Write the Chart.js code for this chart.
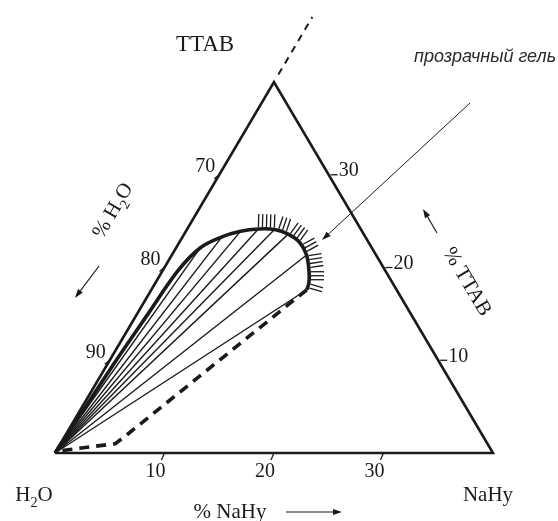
<!DOCTYPE html>
<html>
<head>
<meta charset="utf-8">
<script src="https://cdn.jsdelivr.net/npm/chart.js@4.4.1/dist/chart.umd.min.js"></script>
<style>
  html, body { margin: 0; padding: 0; background: #fff; }
  #wrap { width: 558px; height: 521px; position: relative; }
</style>
</head>
<body>
<div id="wrap"><canvas id="phaseChart"></canvas></div>
<script>
// composition in wt %: b = NaHy, t = TTAB, H2O is the remainder
const sideMax = 40;

// gel region boundary
const gelNaHy = [0, 0.3, 0.6, 1.0, 1.4, 2.2, 3.6, 5.0, 6.5, 8.0, 9.5, 11.0, 12.3, 13.4, 14.0, 14.2];
const gelTTAB = [0, 5, 10, 15, 19.6, 22.1, 23.3, 23.9, 24.15, 24.1, 23.6, 22.7, 21.35, 19.6, 18.4, 17.6];

// tie lines run from the water corner to these boundary points
const tieIdx = [5, 6, 7, 8, 9, 10, 12, 15];

// lower (dashed) boundary
const baseNaHy = [14.2, 5.5, 5.0, 0.4];
const baseTTAB = [17.6, 1.8, 1.0, 0.25];

// hatched part of the boundary (index range)
const hatchFrom = 8;
const hatchTo = 15;

// axis ticks
const naHyTicks = [10, 20, 30];
const waterTicks = [70, 80, 90];
const ttabTicks = [10, 20, 30];

// dashed continuation past the TTAB corner
const apexExtTTAB = [40.8, 47];

const ink = '#1a1a1a';
const serif = "'Liberation Serif', 'Times New Roman', serif";

const toXY = (b, t) => ({ x: b + t / 2, y: t * Math.sqrt(3) / 2 });

function seg(points, extra) {
    return Object.assign({
        data: points,
        showLine: true,
        pointRadius: 0,
        borderColor: ink,
        borderWidth: 1.3,
        fill: false,
        tension: 0,
        borderJoinStyle: 'miter'
    }, extra);
}

const datasets = [
    seg([toXY(0, 0), toXY(sideMax, 0), toXY(0, sideMax), toXY(0, 0)], { borderWidth: 2.6 }),
    seg(apexExtTTAB.map(t => toXY(0, t)), { borderWidth: 2, borderDash: [7, 6] }),
    ...tieIdx.map(i => seg([toXY(0, 0), toXY(gelNaHy[i], gelTTAB[i])], { borderWidth: 1.4 })),
    seg(gelNaHy.map((b, i) => toXY(b, gelTTAB[i])), { borderWidth: 3.6, tension: 0.35, borderJoinStyle: 'round' }),
    seg(baseNaHy.map((b, i) => toXY(b, baseTTAB[i])), { borderWidth: 3.6, borderDash: [10, 7] })
];

function arrow(ctx, x1, y1, x2, y2) {
    const a = Math.atan2(y2 - y1, x2 - x1);
    ctx.beginPath();
    ctx.moveTo(x1, y1);
    ctx.lineTo(x2 - 5 * Math.cos(a), y2 - 5 * Math.sin(a));
    ctx.stroke();
    ctx.beginPath();
    ctx.moveTo(x2, y2);
    ctx.lineTo(x2 - 9 * Math.cos(a) + 3 * Math.sin(a), y2 - 9 * Math.sin(a) - 3 * Math.cos(a));
    ctx.lineTo(x2 - 9 * Math.cos(a) - 3 * Math.sin(a), y2 - 9 * Math.sin(a) + 3 * Math.cos(a));
    ctx.closePath();
    ctx.fill();
}

// centred text with a lowered small digit, parts: [text, isSub]
function chem(ctx, parts, x, y, size) {
    ctx.textAlign = 'left';
    const widths = parts.map(([s, sub]) => {
        ctx.font = (sub ? size * 0.68 : size) + 'px ' + serif;
        return ctx.measureText(s).width;
    });
    let cx = x - widths.reduce((a, w) => a + w, 0) / 2;
    parts.forEach(([s, sub], i) => {
        ctx.font = (sub ? size * 0.68 : size) + 'px ' + serif;
        ctx.fillText(s, cx, y + (sub ? size * 0.28 : 0));
        cx += widths[i];
    });
}

const decor = {
    id: 'ternaryDecor',
    afterDatasetsDraw(chart) {
        const ctx = chart.ctx;
        const xs = chart.scales.x, ys = chart.scales.y;
        const px = (b, t) => { const p = toXY(b, t); return [xs.getPixelForValue(p.x), ys.getPixelForValue(p.y)]; };
        ctx.save();
        ctx.strokeStyle = ink;
        ctx.fillStyle = ink;

        // hatching on the outer side of the gel boundary, evenly spaced along it
        const pts = [];
        for (let i = hatchFrom; i <= hatchTo; i++) pts.push(px(gelNaHy[i], gelTTAB[i]));
        ctx.lineWidth = 1.3;
        const step = 4.0;
        let next = 0, walked = 0;
        for (let i = 0; i < pts.length - 1; i++) {
            const [x1, y1] = pts[i], [x2, y2] = pts[i + 1];
            const len = Math.hypot(x2 - x1, y2 - y1);
            const ux = (x2 - x1) / len, uy = (y2 - y1) / len;
            const nx = uy, ny = -ux;
            while (next <= walked + len) {
                const d = next - walked;
                const bx = x1 + ux * d, by = y1 + uy * d;
                ctx.beginPath();
                ctx.moveTo(bx + nx * 2, by + ny * 2);
                ctx.lineTo(bx + nx * 15, by + ny * 15);
                ctx.stroke();
                next += step;
            }
            walked += len;
        }

        // tick marks
        ctx.lineWidth = 1.3;
        ctx.textBaseline = 'middle';
        ctx.font = '20px ' + serif;
        naHyTicks.forEach(v => {
            const [x, y] = px(v, 0);
            ctx.beginPath(); ctx.moveTo(x, y); ctx.lineTo(x - 3, y + 7); ctx.stroke();
            ctx.textAlign = 'center';
            ctx.fillText(String(v), x - 9, y + 19);
        });
        waterTicks.forEach(v => {
            const [x, y] = px(0, 100 - v);
            ctx.beginPath(); ctx.moveTo(x, y); ctx.lineTo(x - 5, y + 4); ctx.stroke();
            ctx.textAlign = 'right';
            ctx.fillText(String(v), x - 4, y - 8);
        });
        ttabTicks.forEach(v => {
            const [x, y] = px(sideMax - v, v);
            ctx.beginPath(); ctx.moveTo(x + 2, y); ctx.lineTo(x + 9, y); ctx.stroke();
            ctx.textAlign = 'left';
            ctx.fillText(String(v), x + 10, y - 4);
        });

        // corner names
        ctx.textAlign = 'center';
        ctx.textBaseline = 'alphabetic';
        ctx.font = '23px ' + serif;
        ctx.fillText('TTAB', 205, 51);
        chem(ctx, [['H', false], ['2', true], ['O', false]], 34, 501, 21);
        ctx.font = '21px ' + serif;
        ctx.textAlign = 'center';
        ctx.fillText('NaHy', 488, 501);

        // axis titles with direction arrows
        ctx.lineWidth = 1.2;
        ctx.fillText('% NaHy', 230, 518);
        arrow(ctx, 286, 512, 342, 512);

        const edge = Math.atan2(-(ys.getPixelForValue(0) - ys.getPixelForValue(toXY(0, sideMax).y)),
            xs.getPixelForValue(toXY(0, sideMax).x) - xs.getPixelForValue(0));
        ctx.save();
        ctx.translate(112, 210);
        ctx.rotate(edge);
        chem(ctx, [['% H', false], ['2', true], ['O', false]], 0, 7, 21);
        ctx.restore();
        arrow(ctx, 99, 266, 75, 298);

        ctx.save();
        ctx.translate(468, 281);
        ctx.rotate(-edge);
        ctx.font = '21px ' + serif;
        ctx.textAlign = 'center';
        ctx.fillText('% TTAB', 0, 7);
        ctx.restore();
        arrow(ctx, 437, 233, 423, 209);

        // region annotation
        ctx.font = 'italic 18px "Liberation Sans", Arial, sans-serif';
        ctx.fillStyle = '#2a2a2a';
        ctx.textAlign = 'left';
        ctx.fillText('прозрачный гель', 414, 62);
        ctx.fillStyle = ink;
        ctx.lineWidth = 1;
        arrow(ctx, 470, 103, 322, 240);

        ctx.restore();
    }
};

new Chart(document.getElementById('phaseChart').getContext('2d'), {
    type: 'scatter',
    data: { datasets },
    options: {
        responsive: true,
        maintainAspectRatio: false,
        animation: false,
        layout: { padding: 0 },
        plugins: { legend: { display: false }, tooltip: { enabled: false } },
        scales: {
            x: { type: 'linear', display: false, min: -5.02, max: 45.94 },
            y: { type: 'linear', display: false, min: -6.35, max: 42.3 }
        }
    },
    plugins: [decor]
});
</script>
</body>
</html>
